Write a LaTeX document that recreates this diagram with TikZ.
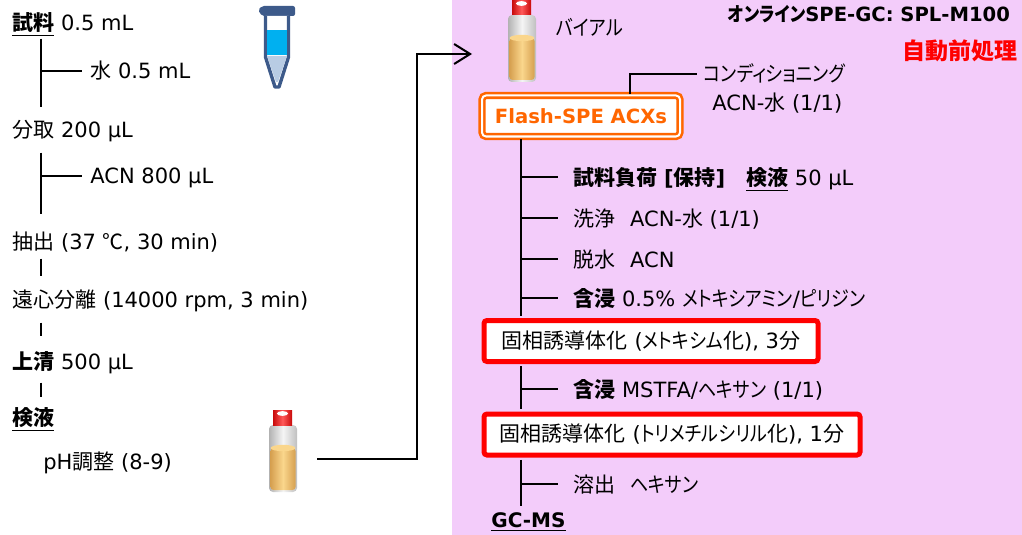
\documentclass[tikz,border=0pt]{standalone}
\usepackage{fontspec}
\setmainfont{DejaVu Sans}
\newfontfamily\jp{Noto Sans CJK JP}
\newfontfamily\kana[RawFeature=+palt, FakeStretch=0.86]{Noto Sans CJK JP}
\usetikzlibrary{arrows.meta}

\definecolor{panelpink}{RGB}{243,204,250}
\definecolor{spe}{RGB}{255,102,0}
\definecolor{tubeblue}{RGB}{61,90,138}
\definecolor{liquidblue}{RGB}{0,176,240}
\definecolor{coneblue}{RGB}{184,204,228}
\definecolor{liqdark}{RGB}{214,160,80}
\definecolor{liqlight}{RGB}{250,214,140}
\definecolor{capdark}{RGB}{200,10,10}
\definecolor{caplight}{RGB}{255,90,90}

\tikzset{every node/.style={font=\fontsize{10.5}{12.6}\selectfont}}
\tikzset{lbl/.style={anchor=base west, inner sep=0pt, text height=9.2pt, text depth=1.3pt}}
\tikzset{flow/.style={line width=1.1pt}}
\tikzset{flashbox/.style={draw=spe, double=white, double distance=1pt, line width=1.3pt,
    fill=white, rounded corners=2pt, minimum width=99pt, minimum height=20.5pt,
    inner sep=0pt, text=spe, font=\fontsize{9.8}{11}\selectfont\bfseries}}
\tikzset{redbox/.style={draw=red, line width=2.5pt, fill=white, rounded corners=1.5pt,
    anchor=west, inner sep=0pt, minimum height=20.5pt}}
\tikzset{vial/.pic={
    % glass
    \shade[left color=gray!60, right color=gray!50, middle color=gray!8, rounded corners=2pt]
      (0,15) rectangle (28,82);
    % liquid
    \shade[left color=liqdark, right color=liqdark, middle color=liqlight, rounded corners=1.5pt]
      (1.5,38) rectangle (26.5,80);
    \fill[liqlight] (14,38) ellipse [x radius=6.2pt, y radius=1.6pt];
    % cap
    \shade[left color=capdark, right color=capdark, middle color=caplight] (4,0) rectangle (23,15);
    \fill[white] (13.5,3.5) ellipse [x radius=2.8pt, y radius=1.2pt];
  }}

\begin{document}
\begin{tikzpicture}[x=0.5pt, y=-0.5pt]
  \useasboundingbox (0,0) rectangle (1022,535);
  \fill[panelpink] (452,0) rectangle (1022,535);

  \coordinate (lx) at (41,0);
  \coordinate (rx) at (521,0);
  \coordinate (cx) at (630,0);

  % pretreatment
  \node[lbl] (sample) at (12,31) {\underline{{\jp\bfseries 試料}} 0.5 mL};
  \node[lbl] (water) at (90,79) {{\jp 水} 0.5 mL};
  \node[lbl] (split) at (12,138) {{\jp 分取} 200 µL};
  \node[lbl] (acn) at (90,184) {ACN 800 µL};
  \node[lbl] (extract) at (12,249) {{\jp 抽出} (37 {\jp ℃}, 30 min)};
  \node[lbl] (centrif) at (12,307) {{\jp 遠心分離} (14000 rpm, 3 min)};
  \node[lbl] (super) at (12,369) {{\jp\bfseries 上清} 500 µL};
  \node[lbl] (testliq) at (12,425) {\underline{{\jp\bfseries 検液}}};
  \node[lbl] (ph) at (43,469) {pH{\jp 調整} (8-9)};

  \draw[flow, shorten <=2.3pt, shorten >=6.2pt] (sample.south -| lx) -- (split.north -| lx);
  \draw[flow] (water.west -| lx) -- ([xshift=-4pt]water.west);
  \draw[flow, shorten <=5.8pt, shorten >=8.2pt] (split.south -| lx) -- (extract.north -| lx);
  \draw[flow] (acn.west -| lx) -- ([xshift=-4pt]acn.west);
  \draw[flow, shorten <=3.3pt, shorten >=6.2pt] (extract.south -| lx) -- (centrif.north -| lx);
  \draw[flow, shorten <=6.3pt, shorten >=7.2pt] (centrif.south -| lx) -- (super.north -| lx);
  \draw[flow, shorten <=5.3pt, shorten >=4.7pt] (super.south -| lx) -- (testliq.north -| lx);

  % tube
  \fill[tubeblue, rounded corners=1pt] (258,10) -- (262,6) -- (295,6) -- (295,16) -- (262,16) -- cycle;
  \draw[tubeblue, line width=1.7pt, fill=white, line join=round]
    (265.5,16) -- (265.5,57) -- (275,87) -- (279,87) -- (288.5,57) -- (288.5,16);
  \fill[liquidblue] (267,30) rectangle (287,55);
  \fill[coneblue] (267,56) -- (287,56) -- (278,82) -- (276,82) -- cycle;

  % vials
  \pic at (269,410) {vial};
  \pic at (508,0) {vial};
  \coordinate (vialout) at (317,459);
  \coordinate (vialin) at (472,54);
  \draw[line width=1pt, -{Straight Barb[length=8pt, width=10pt, line width=1pt]}]
    (vialout) -- ++(100,0) |- (vialin);

  % SPE side
  \node[anchor=base east, font=\fontsize{9.8}{11}\selectfont\bfseries] (title) at (1017,22)
    {{\kana オンライン}SPE-GC: SPL-M100};
  \node[anchor=base east, text=red, font=\fontsize{11.5}{13}\selectfont\bfseries] (auto) at (1025,60)
    {{\jp 自動前処理}};
  \node[lbl] (vialtxt) at (556,36) {{\kana バイアル}};

  \node[flashbox] (flash) at (581,116) {Flash-SPE ACXs};
  \node[lbl] (cond) at (703,82) {{\kana コンディショニング}};
  \node[lbl] (condsolv) at (712,111) {ACN-{\jp 水} (1/1)};
  \draw[flow] (flash.north -| cx) |- ([xshift=-3pt]cond.west);

  \node[lbl] (load) at (573,185) {{\jp\bfseries 試料負荷} \textbf{[}{\jp\bfseries 保持}\textbf{]}\hspace{1em}\underline{{\jp\bfseries 検液}} 50 µL};
  \node[lbl] (wash) at (573,226) {{\jp 洗浄}\hspace{0.7em}ACN-{\jp 水} (1/1)};
  \node[lbl] (dry) at (573,267) {{\jp 脱水}\hspace{0.7em}ACN};
  \node[lbl] (soak1) at (573,306) {{\jp\bfseries 含浸} 0.5\% {\kana メトキシアミン}/{\kana ピリジン}};
  \node[redbox, minimum width=167pt] (meth) at (481.5,341) {{\jp 固相誘導体化} ({\kana メトキシム}{\jp 化}), 3{\jp 分}};
  \node[lbl] (soak2) at (573,397) {{\jp\bfseries 含浸} MSTFA/{\kana ヘキサン} (1/1)};
  \node[redbox, minimum width=188pt] (tms) at (481.5,434.5) {{\jp 固相誘導体化} ({\kana トリメチルシリル}{\jp 化}), 1{\jp 分}};
  \node[lbl] (elute) at (573,492) {{\jp 溶出}\hspace{0.7em}{\kana ヘキサン}};
  \node[lbl, font=\fontsize{10}{12}\selectfont\bfseries] (gcms) at (491,527) {\underline{GC-MS}};

  \draw[flow, shorten <=0.8pt, shorten >=1.2pt] (flash.south -| rx) -- (meth.north -| rx);
  \draw[flow] (load.west -| rx) -- ([xshift=-7.5pt]load.west);
  \draw[flow] (wash.west -| rx) -- ([xshift=-7.5pt]wash.west);
  \draw[flow] (dry.west -| rx) -- ([xshift=-7.5pt]dry.west);
  \draw[flow] (soak1.west -| rx) -- ([xshift=-7.5pt]soak1.west);
  \draw[flow, shorten <=1.2pt, shorten >=1.2pt] (meth.south -| rx) -- (tms.north -| rx);
  \draw[flow] (soak2.west -| rx) -- ([xshift=-7.5pt]soak2.west);
  \draw[flow, shorten <=1.2pt, shorten >=1pt] (tms.south -| rx) -- (gcms.north -| rx);
  \draw[flow] (elute.west -| rx) -- ([xshift=-7.5pt]elute.west);
\end{tikzpicture}
\end{document}
